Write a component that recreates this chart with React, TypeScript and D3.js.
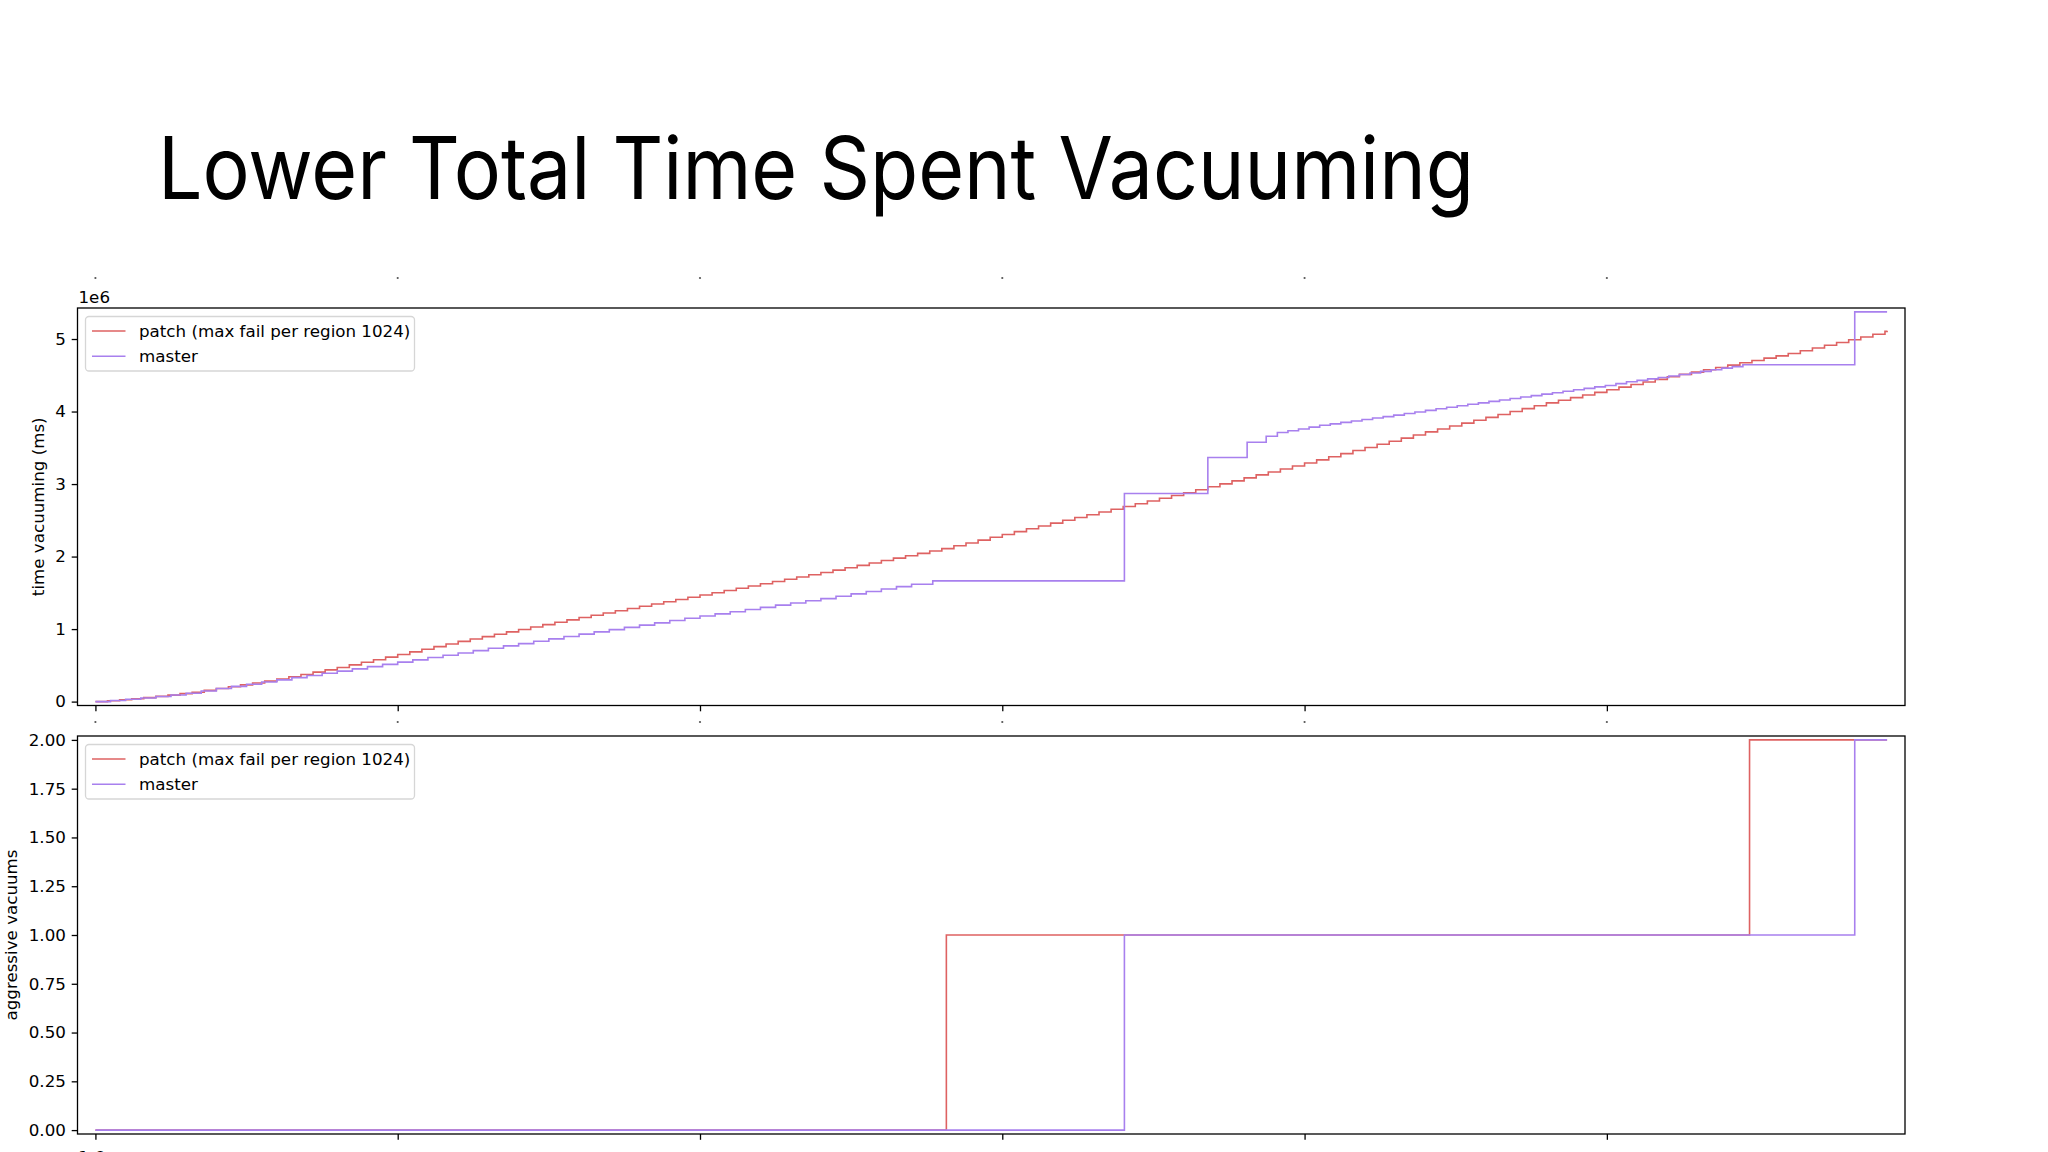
import React, { useEffect, useRef } from 'react';
import * as d3 from 'd3';

const W = 2048;
const H = 1152;

const TITLE = 'Lower Total Time Spent Vacuuming';
const seriesNames = ['patch (max fail per region 1024)', 'master'];
const seriesColors = ['#de6262', '#a880ee'];

// x positions are in tick units (labels are not visible in the source)
const xTicks = [0, 1, 2, 3, 4, 5];
const timeTicks = [0, 1, 2, 3, 4, 5];
const aggressiveTicks = [0, 0.25, 0.5, 0.75, 1, 1.25, 1.5, 1.75, 2];

// cumulative time vacuuming, in 1e6 ms
const patchTime: [number, number][] = [
  [0, 0], [0.04, 0.012], [0.08, 0.025], [0.12, 0.04], [0.16, 0.055], [0.2, 0.072], [0.24, 0.09], [0.28, 0.11],
  [0.32, 0.13], [0.36, 0.155], [0.4, 0.18], [0.44, 0.205], [0.48, 0.23], [0.52, 0.257], [0.56, 0.283], [0.6, 0.31],
  [0.64, 0.342], [0.68, 0.374], [0.72, 0.406], [0.76, 0.438], [0.8, 0.47], [0.84, 0.506], [0.88, 0.542], [0.92, 0.578],
  [0.96, 0.614], [1.0, 0.65], [1.04, 0.686], [1.08, 0.722], [1.12, 0.758], [1.16, 0.794], [1.2, 0.83], [1.24, 0.863],
  [1.28, 0.896], [1.32, 0.929], [1.36, 0.962], [1.4, 0.995], [1.44, 1.028], [1.48, 1.061], [1.52, 1.094], [1.56, 1.127],
  [1.6, 1.16], [1.64, 1.191], [1.68, 1.222], [1.72, 1.253], [1.76, 1.284], [1.8, 1.315], [1.84, 1.346], [1.88, 1.377],
  [1.92, 1.408], [1.96, 1.439], [2.0, 1.47], [2.04, 1.501], [2.08, 1.532], [2.12, 1.563], [2.16, 1.594], [2.2, 1.625],
  [2.24, 1.656], [2.28, 1.687], [2.32, 1.718], [2.36, 1.749], [2.4, 1.78], [2.44, 1.813], [2.48, 1.846], [2.52, 1.879],
  [2.56, 1.912], [2.6, 1.945], [2.64, 1.978], [2.68, 2.011], [2.72, 2.044], [2.76, 2.077], [2.8, 2.11], [2.84, 2.149],
  [2.88, 2.188], [2.92, 2.227], [2.96, 2.266], [3.0, 2.305], [3.04, 2.344], [3.08, 2.383], [3.12, 2.422], [3.16, 2.461],
  [3.2, 2.5], [3.24, 2.538], [3.28, 2.576], [3.32, 2.614], [3.36, 2.652], [3.4, 2.69], [3.44, 2.728], [3.48, 2.766],
  [3.52, 2.804], [3.56, 2.842], [3.6, 2.88], [3.64, 2.921], [3.68, 2.962], [3.72, 3.003], [3.76, 3.044], [3.8, 3.085],
  [3.84, 3.126], [3.88, 3.167], [3.92, 3.208], [3.96, 3.249], [4.0, 3.29], [4.04, 3.333], [4.08, 3.376], [4.12, 3.419],
  [4.16, 3.462], [4.2, 3.505], [4.24, 3.548], [4.28, 3.591], [4.32, 3.634], [4.36, 3.677], [4.4, 3.72], [4.44, 3.76],
  [4.48, 3.8], [4.52, 3.84], [4.56, 3.88], [4.6, 3.92], [4.64, 3.96], [4.68, 4.0], [4.72, 4.04], [4.76, 4.08],
  [4.8, 4.12], [4.84, 4.156], [4.88, 4.192], [4.92, 4.228], [4.96, 4.264], [5.0, 4.3], [5.04, 4.336], [5.08, 4.372],
  [5.12, 4.408], [5.16, 4.444], [5.2, 4.48], [5.24, 4.512], [5.28, 4.544], [5.32, 4.576], [5.36, 4.608], [5.4, 4.64],
  [5.44, 4.672], [5.48, 4.704], [5.52, 4.736], [5.56, 4.768], [5.6, 4.8], [5.64, 4.838], [5.68, 4.876], [5.72, 4.914],
  [5.76, 4.952], [5.8, 4.99], [5.84, 5.028], [5.88, 5.066], [5.92, 5.106], [5.927, 5.113],
];

const masterTime: [number, number][] = [
  [0, 0], [0.05, 0.015], [0.1, 0.032], [0.15, 0.05], [0.2, 0.07], [0.25, 0.092], [0.3, 0.116], [0.35, 0.147],
  [0.4, 0.18], [0.45, 0.21], [0.5, 0.24], [0.55, 0.27], [0.6, 0.3], [0.65, 0.33], [0.7, 0.36], [0.75, 0.39],
  [0.8, 0.42], [0.85, 0.451], [0.9, 0.483], [0.95, 0.514], [1.0, 0.545], [1.05, 0.576], [1.1, 0.608], [1.15, 0.639],
  [1.2, 0.67], [1.25, 0.703], [1.3, 0.735], [1.35, 0.768], [1.4, 0.8], [1.45, 0.833], [1.5, 0.865], [1.55, 0.898],
  [1.6, 0.93], [1.65, 0.961], [1.7, 0.993], [1.75, 1.024], [1.8, 1.055], [1.85, 1.086], [1.9, 1.118], [1.95, 1.149],
  [2.0, 1.18], [2.05, 1.21], [2.1, 1.24], [2.15, 1.27], [2.2, 1.3], [2.25, 1.33], [2.3, 1.36], [2.35, 1.39],
  [2.4, 1.42], [2.45, 1.453], [2.5, 1.486], [2.55, 1.519], [2.6, 1.552], [2.65, 1.585], [2.7, 1.618], [2.77, 1.665],
  [3.404, 2.87], [3.68, 3.366], [3.81, 3.577], [3.873, 3.66],
  [3.91, 3.71], [3.945, 3.735], [3.98, 3.76], [4.015, 3.785], [4.05, 3.81], [4.085, 3.83], [4.12, 3.85], [4.155, 3.87],
  [4.19, 3.89], [4.225, 3.91], [4.26, 3.93], [4.295, 3.95], [4.33, 3.972], [4.365, 3.994], [4.4, 4.016], [4.435, 4.038],
  [4.47, 4.06], [4.505, 4.08], [4.54, 4.1], [4.575, 4.12], [4.61, 4.14], [4.645, 4.16], [4.68, 4.18], [4.715, 4.2],
  [4.75, 4.22], [4.785, 4.24], [4.82, 4.26], [4.855, 4.28], [4.89, 4.3], [4.925, 4.32], [4.96, 4.34], [4.995, 4.36],
  [5.03, 4.385], [5.065, 4.41], [5.1, 4.43], [5.135, 4.45], [5.17, 4.47], [5.205, 4.49], [5.24, 4.51], [5.275, 4.532],
  [5.31, 4.554], [5.345, 4.576], [5.38, 4.598], [5.415, 4.62], [5.45, 4.645],
  [5.82, 5.374], [5.927, 5.374],
];

// aggressive vacuum count
const patchAggressive: [number, number][] = [[0, 0], [2.815, 1], [5.472, 2], [5.927, 2]];
const masterAggressive: [number, number][] = [[0, 0], [3.404, 1], [5.82, 2], [5.927, 2]];

const FONT = 'DejaVu Sans, sans-serif';
const FS = 16.7;
const TICK = 5.8;

const App = () => {
  const svgRef = useRef<SVGSVGElement>(null);

  useEffect(() => {
    const svg = d3.select(svgRef.current);
    svg.selectAll('*').remove();

    svg.append('rect').attr('width', W).attr('height', H).attr('fill', '#fff');

    svg.append('text')
      .attr('x', 158).attr('y', 199)
      .attr('font-family', 'Inter, sans-serif')
      .attr('font-size', 86)
      .attr('textLength', 1316)
      .attr('lengthAdjust', 'spacingAndGlyphs')
      .attr('fill', '#000')
      .text(TITLE);

    const left = 77.5, right = 1905;
    const allX = [...patchTime, ...masterTime].map(d => d[0]);
    const xMin = d3.min(allX)!, xMax = d3.max(allX)!;
    const xPad = (xMax - xMin) * 0.01;
    const x = d3.scaleLinear().domain([xMin - xPad, xMax + xPad]).range([left, right]);

    const panel = (
      top: number, bottom: number,
      series: [number, number][][], ticks: number[], fmt: (v: number) => string,
      yLabel: string, yLabelX: number,
    ) => {
      const yMax = d3.max(series, s => d3.max(s, d => d[1]))!;
      const yPad = yMax * 0.01;
      const y = d3.scaleLinear().domain([-yPad, yMax + yPad]).range([bottom, top]);
      const g = svg.append('g');

      g.append('rect')
        .attr('x', left).attr('y', top)
        .attr('width', right - left).attr('height', bottom - top)
        .attr('fill', '#fff');

      const line = d3.line<[number, number]>()
        .x(d => x(d[0]))
        .y(d => y(d[1]))
        .curve(d3.curveStepAfter);

      series.forEach((s, i) => {
        g.append('path')
          .datum(s)
          .attr('d', line)
          .attr('fill', 'none')
          .attr('stroke', seriesColors[i])
          .attr('stroke-width', 1.6);
      });

      g.append('rect')
        .attr('x', left).attr('y', top)
        .attr('width', right - left).attr('height', bottom - top)
        .attr('fill', 'none').attr('stroke', '#000').attr('stroke-width', 1.3);

      const xAxis = g.append('g')
        .attr('transform', `translate(0,${bottom})`)
        .call(d3.axisBottom(x).tickValues(xTicks).tickSize(TICK).tickFormat(() => ''));
      xAxis.select('.domain').remove();
      xAxis.selectAll('line').attr('stroke', '#000').attr('stroke-width', 1.3);

      const yAxis = g.append('g')
        .attr('transform', `translate(${left},0)`)
        .call(d3.axisLeft(y).tickValues(ticks).tickSize(TICK).tickPadding(5.8).tickFormat(d => fmt(+d)));
      yAxis.select('.domain').remove();
      yAxis.selectAll('line').attr('stroke', '#000').attr('stroke-width', 1.3);
      yAxis.selectAll('text')
        .attr('font-family', FONT).attr('font-size', FS).attr('fill', '#000');

      g.append('text')
        .attr('transform', `translate(${yLabelX},${(top + bottom) / 2}) rotate(-90)`)
        .attr('text-anchor', 'middle')
        .attr('font-family', FONT).attr('font-size', FS)
        .text(yLabel);

      // legend
      const lg = g.append('g').attr('transform', `translate(85.5,${top + 8.5})`);
      lg.append('rect')
        .attr('width', 329).attr('height', 54.5).attr('rx', 3.5)
        .attr('fill', '#fff').attr('fill-opacity', 0.8)
        .attr('stroke', '#d6d6d6').attr('stroke-width', 1.3);
      seriesNames.forEach((name, i) => {
        const cy = 14.5 + i * 25.3;
        lg.append('line')
          .attr('x1', 6.5).attr('x2', 40)
          .attr('y1', cy).attr('y2', cy)
          .attr('stroke', seriesColors[i]).attr('stroke-width', 1.6);
        lg.append('text')
          .attr('x', 53.5).attr('y', cy + 6)
          .attr('font-family', FONT).attr('font-size', FS)
          .text(name);
      });

      return { y, g };
    };

    const topPanel = panel(308, 705.5, [patchTime, masterTime], timeTicks, d3.format('d'),
      'time vacuuming (ms)', 44);
    panel(736, 1134, [patchAggressive, masterAggressive], aggressiveTicks, d3.format('.2f'),
      'aggressive vacuums', 17);

    topPanel.g.append('text')
      .attr('x', left + 1).attr('y', 303)
      .attr('font-family', FONT).attr('font-size', FS)
      .text('1e6');

    // clipped remnants of hidden tick labels
    [278, 722].forEach(cy => {
      svg.append('g').selectAll('circle')
        .data(xTicks)
        .join('circle')
        .attr('cx', d => x(d))
        .attr('cy', cy)
        .attr('r', 1.1)
        .attr('fill', '#555');
    });
    svg.append('text')
      .attr('x', x(xTicks[0]) - 4).attr('y', 1163)
      .attr('text-anchor', 'middle')
      .attr('font-family', FONT).attr('font-size', FS)
      .text('1.6');
  }, []);

  return (
    <svg ref={svgRef} width={W} height={H}
      style={{ position: 'absolute', left: 0, top: 0, display: 'block' }} />
  );
};

export default App;
